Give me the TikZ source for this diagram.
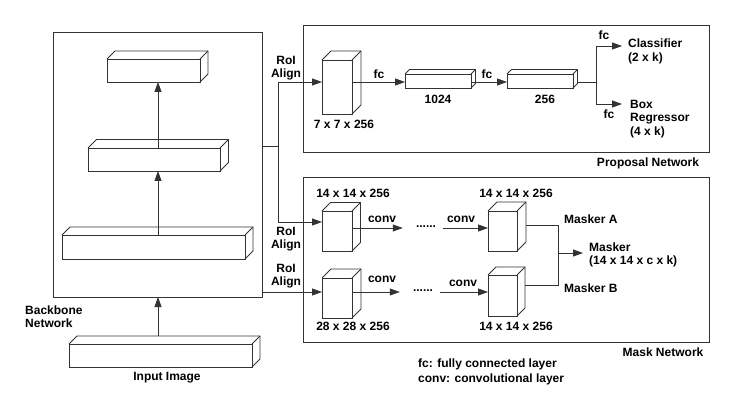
\documentclass[tikz,border=0pt]{standalone}
\usepackage{fontspec}
\setmainfont{Liberation Sans}
\usetikzlibrary{arrows.meta,calc}
\tikzset{
 ln/.style={draw=black!80, line width=0.8pt},
 arr/.style={ln, -{Triangle[length=10pt,width=7pt]}},
 blk/.style={ln, rectangle, inner sep=0pt, outer sep=0pt, fill=white},
 frame/.style={ln, rectangle, inner sep=0pt, outer sep=0pt},
 lbl/.style={font=\bfseries\fontsize{12}{13.5}\selectfont, inner sep=0pt, align=center, text=black},
 lbll/.style={lbl, align=left},
}
\newcommand\cuboid[6]{%
 \node[blk, minimum width=#4pt, minimum height=#5pt] (#1) at (#2,#3) {};
 \draw[ln, line join=round] (#1.north west) -- ++(#6,-#6) -- ++(#4,0) -- ++(0,#5) -- ++(-#6,#6);
 \draw[ln] (#1.north east) -- ++(#6,-#6);
}
\begin{document}
\begin{tikzpicture}[x=1pt,y=-1pt]
\useasboundingbox (0,0) rectangle (735,411);
% frames
\node[frame, minimum width=209pt, minimum height=265pt] (bb) at (157.5,164.5) {};
\node[frame, minimum width=406pt, minimum height=127pt] (pn) at (506,88.5) {};
\node[frame, minimum width=406pt, minimum height=165pt] (mn) at (506,259.5) {};
% backbone blocks
\cuboid{b3}{153.5}{70.5}{93}{23}{8}
\cuboid{b2}{154}{159.5}{132}{23}{8.5}
\cuboid{b1}{153.5}{247}{183}{24}{8}
\cuboid{inp}{160.5}{355.5}{183}{23}{8}
\coordinate (ax) at (158,0);
\draw[arr] (ax |- b2.north) -- (ax |- b3.south);
\draw[arr] (ax |- b1.north) -- (ax |- b2.south);
\draw[arr] ([yshift=8pt]ax |- inp.north) -- (ax |- bb.south);
\node[lbll, anchor=west] (bbl) at (25,316.5) {Backbone\\Network};
\node[lbl] (inl) at (167,378) {Input Image};
% proposal network
\cuboid{P1}{337}{87}{30}{54}{9}
\cuboid{P2}{438}{81}{66}{14}{4.5}
\cuboid{P3}{540}{81}{66}{14}{4.5}
\node[lbl] at (344,124) {7 x 7 x 256};
\node[lbl] at (438,99) {1024};
\node[lbl] at (545,99) {256};
\node[lbl] at (379,74) {fc};
\node[lbl] at (487,74) {fc};
\node[lbl] at (604,35) {fc};
\node[lbl] at (609,114) {fc};
\node[lbll, anchor=west] (clf) at (628,51.5) {Classifier\\(2 x k)};
\node[lbll, anchor=west] (breg) at (630,119) {Box\\Regressor\\(4 x k)};
\node[lbl] at (648,163) {Proposal Network};
% mask network blocks
\cuboid{M1}{337}{231}{30}{40}{8.5}
\cuboid{M2}{502.5}{231}{29}{40}{9}
\cuboid{M3}{337}{298}{30}{40}{9}
\cuboid{M4}{502.5}{295.5}{29}{41}{8}
% connections backbone -> heads
\coordinate (jmid) at (278,146);
\coordinate (jtop) at (278,82);
\coordinate (jbot) at (278,222);
\coordinate (m3y) at (278,292);
\draw[ln] (jmid -| bb.east) -- (jmid);
\draw[ln] (jtop) -- (jbot);
\draw[arr] (jtop) -- (jtop -| P1.west);
\draw[arr] (jbot) -- (jbot -| M1.west);
\draw[arr] (m3y -| bb.east) -- (m3y -| M3.west);
\node[lbl] at (286,68) {RoI\\Align};
\node[lbl] at (286,239) {RoI\\Align};
\node[lbl] at (286,276) {RoI\\Align};
% proposal arrows
\draw[arr] (jtop -| P1.east) -- (jtop -| P2.west);
\draw[arr] (jtop -| P2.east) -- (jtop -| P3.west);
\coordinate (ps) at (596,82);
\coordinate (pc) at (596,46);
\coordinate (pb) at (596,104);
\draw[ln] ([xshift=4pt]jtop -| P3.east) -- (ps);
\draw[ln] (pc) -- (pb);
\draw[arr, shorten >=6pt] (pc) -- (pc -| clf.west);
\draw[arr, shorten >=8pt] (pb) -- (pb -| breg.west);
% mask network
\node[lbl] at (353,193) {14 x 14 x 256};
\node[lbl] at (516,193) {14 x 14 x 256};
\node[lbl] at (353,326) {28 x 28 x 256};
\node[lbl] at (516,326) {14 x 14 x 256};
\node[lbl] (dots1) at (426,227) {......};
\node[lbl] (dots2) at (423,291) {......};
\coordinate (r1) at (0,228);
\coordinate (r2) at (0,292);
\draw[arr, shorten >=13pt] (r1 -| M1.east) -- (r1 -| dots1.west);
\draw[arr, shorten <=7pt] (r1 -| dots1.east) -- (r1 -| M2.west);
\draw[arr, shorten >=13pt] (r2 -| M3.east) -- (r2 -| dots2.west);
\draw[arr, shorten <=7pt] (r2 -| dots2.east) -- (r2 -| M4.west);
\node[lbl] at (382,219) {conv};
\node[lbl] at (461,219) {conv};
\node[lbl] at (382,279) {conv};
\node[lbl] at (463,283) {conv};
\coordinate (mj) at (558,225);
\coordinate (mjb) at (558,285);
\coordinate (mo) at (558,253);
\draw[ln] ([xshift=9pt]mj -| M2.east) -- (mj) -- (mjb) -- ([xshift=8pt]mjb -| M4.east);
\node[lbll, anchor=west] (mk) at (589,255) {Masker\\(14 x 14 x c x k)};
\draw[arr, shorten >=6pt] (mo) -- (mo -| mk.west);
\node[lbl, anchor=west] at (564,219) {Masker A};
\node[lbl, anchor=west] at (564,288) {Masker B};
\node[lbl] at (663,352) {Mask Network};
\node[lbll, anchor=west, font=\bfseries\fontsize{12}{15}\selectfont] at (418,371.5) {fc: fully connected layer\\conv: convolutional layer};
\end{tikzpicture}
\end{document}
